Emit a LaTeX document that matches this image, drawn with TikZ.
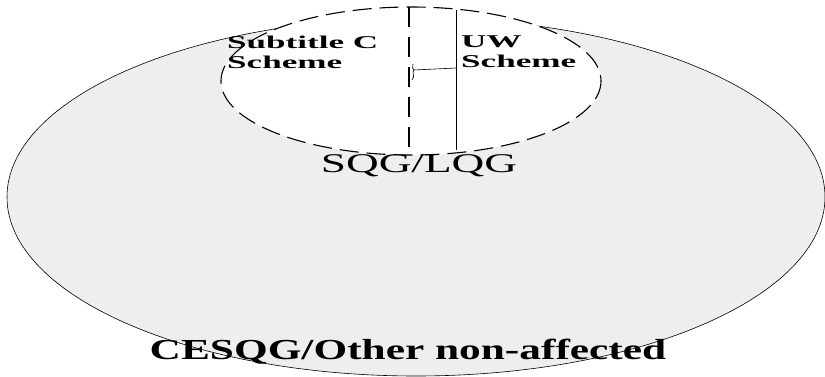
\documentclass[tikz,border=0pt]{standalone}
\usepackage{graphicx}
\usepackage{fontspec}
\setmainfont{Liberation Serif}
\newfontfamily\widefont[FakeStretch=1.3]{Liberation Serif}
\usetikzlibrary{shapes.geometric}
\definecolor{outerfill}{HTML}{EEEEEE}
\tikzset{
  lbl/.style={inner sep=0pt, align=left},
  longdash/.style={dash pattern=on 19pt off 8pt, line width=1.1pt},
}
\begin{document}
\begin{tikzpicture}[x=1pt,y=-1pt]
\useasboundingbox (0,0) rectangle (825,377);
\clip (0,0) rectangle (825,377);
% outer region
\draw[fill=outerfill, line width=0.6pt] (416,197) ellipse [x radius=409, y radius=179];
% inner region
\fill[white] (411,81) ellipse [x radius=190, y radius=74];
\draw[longdash] (411,81) ellipse [x radius=190, y radius=74];
% dividing lines
\coordinate (dtop) at (409,7);
\coordinate (dbot) at (409,150);
\coordinate (stop) at (456,10);
\coordinate (sbot) at (456,150);
\draw[dash pattern=on 20pt off 10pt, line width=1.1pt] (dtop) -- (dbot);
\draw[line width=0.6pt] (stop) -- (sbot);
% small connector
\coordinate (cs) at (456,68);
\coordinate (ce) at (414,70);
\draw[line width=0.6pt] (cs) -- (ce) .. controls (411,72) and (416,76) .. (412,80);
\draw[line width=0.6pt] (ce) .. controls (411,68) and (414,66) .. (413,64);
% labels
\node[lbl, font=\widefont\bfseries\fontsize{18}{20}\selectfont, anchor=north west] (sub) at (227,36)
  {\scalebox{1.5}[1]{Subtitle C}\\\scalebox{1.5}[1]{Scheme}};
\node[lbl, font=\widefont\bfseries\fontsize{18}{20}\selectfont, anchor=north west] (uw) at (461,36)
  {\scalebox{1.5}[1]{UW}\\\scalebox{1.5}[1]{Scheme}};
\node[inner sep=0pt, font=\widefont\fontsize{27}{30}\selectfont] (sqg) at (419,166) {\scalebox{1.29}[1]{SQG/LQG}};
\node[inner sep=0pt, font=\widefont\bfseries\fontsize{29}{32}\selectfont] (ces) at (408,352) {\scalebox{1.15}[1]{CESQG/Other non-affected}};
\end{tikzpicture}
\end{document}
